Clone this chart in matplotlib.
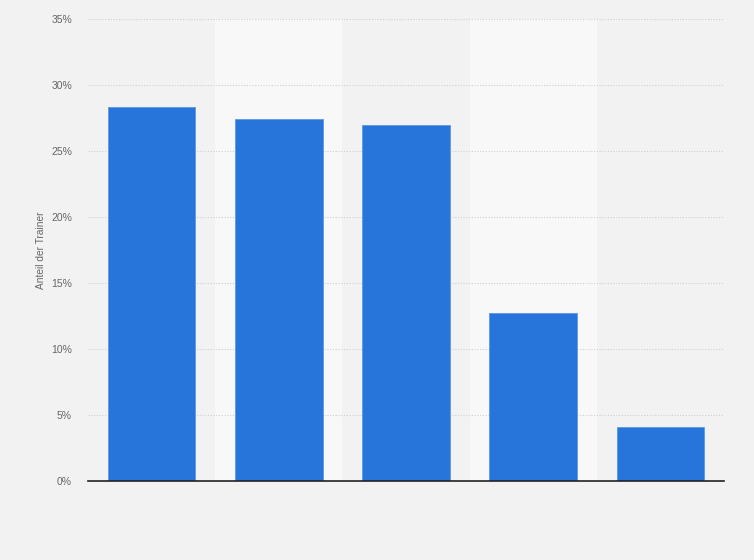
import numpy as np
import matplotlib
matplotlib.use('Agg')
import matplotlib.pyplot as plt
from matplotlib.ticker import FuncFormatter

# Werte (Kategorienamen sind nicht beschriftet)
categories = ['', '', '', '', '']
shares = [28.3, 27.4, 27.0, 12.7, 4.1]
y_ticks = [0, 5, 10, 15, 20, 25, 30, 35]

plt.rcParams['font.family'] = ['Liberation Sans', 'DejaVu Sans']

fig = plt.figure(figsize=(7.54, 5.6), dpi=100, facecolor='#f2f2f2')
ax = fig.add_axes([88/754, 1 - 481/560, (724 - 88)/754, (481 - 19)/560])
ax.set_facecolor('#f2f2f2')

x = np.arange(len(categories))

# helle Hintergrundstreifen jede zweite Kategorie
for i in x:
    if i % 2 == 1:
        ax.axvspan(i - 0.5, i + 0.5, color='#f8f8f8', zorder=0, lw=0)

ax.bar(x, shares, width=0.69, color='#2775db', edgecolor='#5f98e6', linewidth=0.6, zorder=3)

ax.set_xlim(-0.5, len(categories) - 0.5)
ax.set_ylim(0, 35)
ax.set_yticks(y_ticks)
ax.yaxis.set_major_formatter(FuncFormatter(lambda v, p: '%d%%' % v))
ax.set_xticks(x)
ax.set_xticklabels(categories)

ax.grid(axis='y', color='#cfcfcf', linestyle=(0, (1, 1.5)), linewidth=0.8, zorder=1)
ax.grid(axis='x', visible=False)

for s in ['top', 'right', 'left']:
    ax.spines[s].set_visible(False)
ax.spines['bottom'].set_color('#222222')
ax.spines['bottom'].set_linewidth(1.2)
ax.spines['bottom'].set_zorder(4)

ax.tick_params(axis='y', length=0, pad=11.5, labelsize=7.5, labelcolor='#666666')
ax.tick_params(axis='x', length=0)
for lbl in ax.get_yticklabels():
    lbl.set_horizontalalignment('right')

ax.set_ylabel('Anteil der Trainer', fontsize=7.3, color='#666666', labelpad=4)

fig.savefig('out.png', dpi=100, facecolor=fig.get_facecolor())
